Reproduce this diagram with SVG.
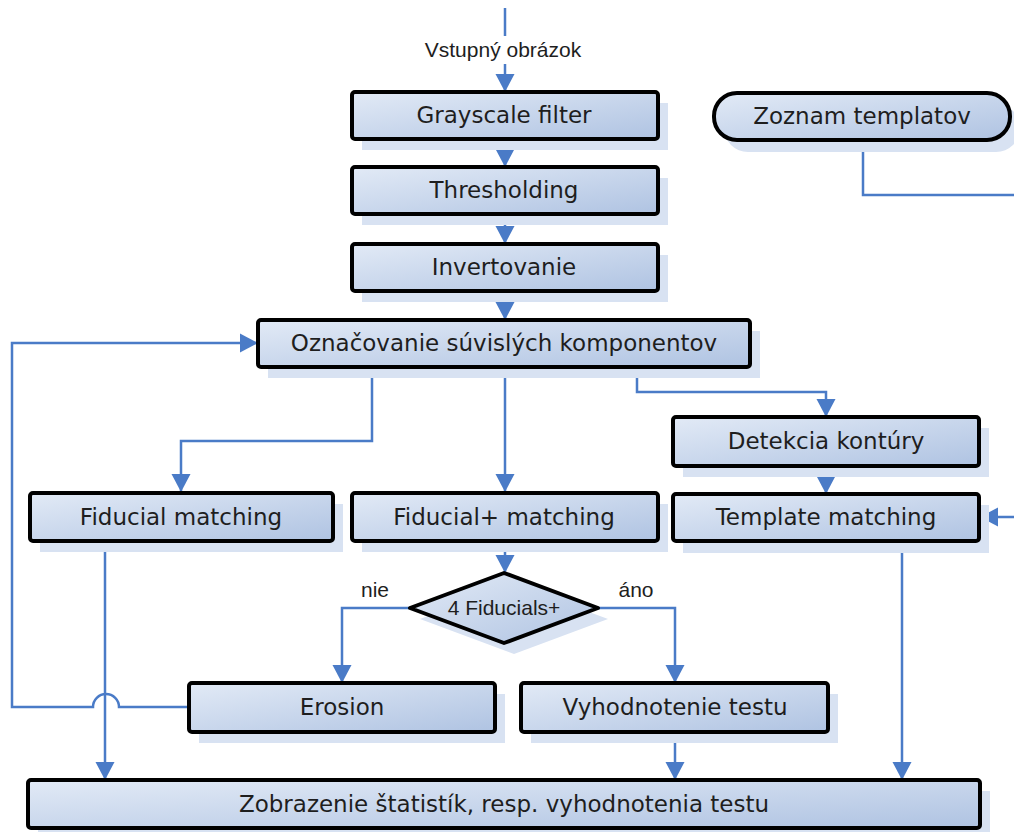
<svg xmlns="http://www.w3.org/2000/svg" width="1014" height="832" viewBox="0 0 1014 832">
  <defs>
    <linearGradient id="boxFill" x1="0" y1="0" x2="1" y2="1">
      <stop offset="0" stop-color="#e2eaf6"/>
      <stop offset="1" stop-color="#afc3e2"/>
    </linearGradient>
    <marker id="arrow" markerUnits="userSpaceOnUse" markerWidth="20" markerHeight="20" viewBox="0 0 20 20" refX="18" refY="10" orient="auto">
      <path d="M0,0.5 L18,10 L0,19.5 Z" fill="#4a7bc7"/>
    </marker>
    <style>
      .shadow { fill: #d8e2f2; }
      .box { fill: url(#boxFill); stroke: #000; stroke-width: 4; }
      .label { font-family: "DejaVu Sans", Verdana, sans-serif; font-size: 23px; fill: #1e1e1e; text-anchor: middle; }
      .small { font-family: "Liberation Sans", Arial, sans-serif; font-size: 21px; fill: #1e1e1e; text-anchor: middle; }
      .conn { fill: none; stroke: #4a7bc7; stroke-width: 2.5; }
      .arr { marker-end: url(#arrow); }
    </style>
  </defs>

  <!-- connectors -->
  <g id="connectors">
    <path class="conn" d="M505,8 V36"/>
    <text class="small" x="503" y="57">Vstupný obrázok</text>
    <path class="conn arr" d="M505,64 V92"/>
    <path class="conn arr" d="M505,139 V167"/>
    <path class="conn arr" d="M505,214 V244"/>
    <path class="conn arr" d="M505,291 V320"/>
    <path class="conn" d="M863,140 V195 H1016"/>
    <path class="conn arr" d="M1016,517 H980"/>
    <path class="conn arr" d="M372,367 V441 H181 V492"/>
    <path class="conn arr" d="M505,367 V492"/>
    <path class="conn arr" d="M637,367 V392 H826 V417"/>
    <path class="conn arr" d="M826,466 V494"/>
    <path class="conn arr" d="M505,541 V573"/>
    <path class="conn arr" d="M410,608 H342 V683"/>
    <path class="conn arr" d="M598,608 H675 V683"/>
    <text class="small" x="375" y="597">nie</text>
    <text class="small" x="636" y="597">áno</text>
    <path class="conn arr" d="M189,707 H119 A13,13 0 0 0 93,707 H12 V343 H258"/>
    <path class="conn arr" d="M105,541 V780"/>
    <path class="conn arr" d="M675,732 V780"/>
    <path class="conn arr" d="M902,541 V780"/>
  </g>

  <g id="grayscale">
    <rect class="shadow" x="362" y="103" width="306" height="47"/>
    <rect class="box" x="352" y="92" width="306" height="47" rx="3"/>
    <text class="label" x="504" y="123">Grayscale filter</text>
  </g>
  <g id="zoznam">
    <rect class="shadow" x="724" y="104" width="296" height="48" rx="24"/>
    <rect class="box" x="714" y="93" width="296" height="47" rx="23"/>
    <text class="label" x="862" y="124">Zoznam templatov</text>
  </g>
  <g id="thresholding">
    <rect class="shadow" x="362" y="178" width="306" height="47"/>
    <rect class="box" x="352" y="167" width="306" height="47" rx="3"/>
    <text class="label" x="504" y="198">Thresholding</text>
  </g>
  <g id="invertovanie">
    <rect class="shadow" x="362" y="255" width="306" height="47"/>
    <rect class="box" x="352" y="244" width="306" height="47" rx="3"/>
    <text class="label" x="504" y="275">Invertovanie</text>
  </g>
  <g id="oznacovanie">
    <rect class="shadow" x="268" y="331" width="492" height="47"/>
    <rect class="box" x="258" y="320" width="492" height="47" rx="3"/>
    <text class="label" x="504" y="351">Označovanie súvislých komponentov</text>
  </g>
  <g id="detekcia">
    <rect class="shadow" x="683" y="428" width="306" height="49"/>
    <rect class="box" x="673" y="417" width="306" height="49" rx="3"/>
    <text class="label" x="826" y="449">Detekcia kontúry</text>
  </g>
  <g id="fiducial">
    <rect class="shadow" x="40" y="504" width="303" height="48"/>
    <rect class="box" x="30" y="493" width="303" height="48" rx="3"/>
    <text class="label" x="181" y="525">Fiducial matching</text>
  </g>
  <g id="fiducialplus">
    <rect class="shadow" x="362" y="504" width="306" height="48"/>
    <rect class="box" x="352" y="493" width="306" height="48" rx="3"/>
    <text class="label" x="504" y="525">Fiducial+ matching</text>
  </g>
  <g id="template">
    <rect class="shadow" x="683" y="505" width="306" height="48"/>
    <rect class="box" x="673" y="494" width="306" height="47" rx="3"/>
    <text class="label" x="826" y="525">Template matching</text>
  </g>
  <g id="decision">
    <polygon class="shadow" points="420,619 514,584 608,619 514,654"/>
    <polygon class="box" points="410,608 504,573 598,608 504,643" stroke-linejoin="round"/>
    <text class="small" x="504" y="615">4 Fiducials+</text>
  </g>
  <g id="erosion">
    <rect class="shadow" x="199" y="694" width="306" height="49"/>
    <rect class="box" x="189" y="683" width="306" height="49" rx="3"/>
    <text class="label" x="342" y="715">Erosion</text>
  </g>
  <g id="vyhodnotenie">
    <rect class="shadow" x="531" y="694" width="307" height="49"/>
    <rect class="box" x="521" y="683" width="307" height="49" rx="3"/>
    <text class="label" x="675" y="715">Vyhodnotenie testu</text>
  </g>
  <g id="zobrazenie">
    <rect class="shadow" x="38" y="791" width="952" height="48"/>
    <rect class="box" x="28" y="780" width="952" height="48" rx="3"/>
    <text class="label" x="504" y="812">Zobrazenie štatistík, resp. vyhodnotenia testu</text>
  </g>
</svg>
